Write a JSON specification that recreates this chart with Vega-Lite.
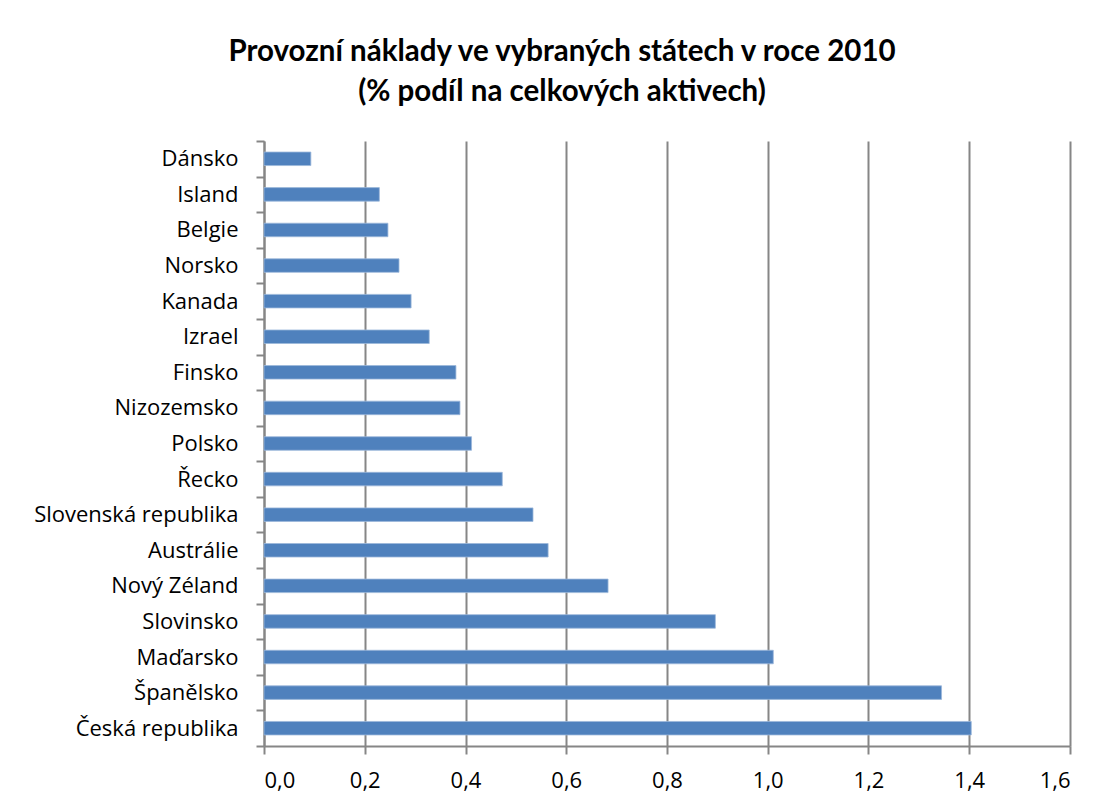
{
  "$schema": "https://vega.github.io/schema/vega-lite/v6.json",
  "autosize": {"type": "none"},
  "width": 806,
  "height": 605,
  "padding": {"left": 264, "top": 141, "right": 35, "bottom": 61},
  "background": "white",
  "title": {
    "text": ["Provozní náklady ve vybraných státech v roce 2010", "(% podíl na celkových aktivech)"],
    "font": "Lato",
    "fontSize": 29.5,
    "fontWeight": "bold",
    "color": "#000000",
    "lineHeight": 40,
    "anchor": "middle",
    "frame": "group",
    "dx": -105,
    "offset": 23
  },
  "data": {
    "values": [
      {"stat": "Dánsko", "hodnota": 0.093},
      {"stat": "Island", "hodnota": 0.229},
      {"stat": "Belgie", "hodnota": 0.246},
      {"stat": "Norsko", "hodnota": 0.268},
      {"stat": "Kanada", "hodnota": 0.292},
      {"stat": "Izrael", "hodnota": 0.328},
      {"stat": "Finsko", "hodnota": 0.381},
      {"stat": "Nizozemsko", "hodnota": 0.389},
      {"stat": "Polsko", "hodnota": 0.412},
      {"stat": "Řecko", "hodnota": 0.473},
      {"stat": "Slovenská republika", "hodnota": 0.534},
      {"stat": "Austrálie", "hodnota": 0.564},
      {"stat": "Nový Zéland", "hodnota": 0.683},
      {"stat": "Slovinsko", "hodnota": 0.896},
      {"stat": "Maďarsko", "hodnota": 1.011},
      {"stat": "Španělsko", "hodnota": 1.345},
      {"stat": "Česká republika", "hodnota": 1.404}
    ]
  },
  "mark": {"type": "bar", "color": "#4F81BD", "stroke": "#9CB8DA", "strokeWidth": 0.8, "height": {"band": 0.38}},
  "encoding": {
    "y": {
      "field": "stat",
      "type": "nominal",
      "sort": null,
      "title": null,
      "scale": {"paddingInner": 0, "paddingOuter": 0},
      "axis": {
        "tickBand": "extent",
        "tickSize": 8,
        "tickColor": "#868686",
        "tickWidth": 2,
        "domainColor": "#868686",
        "domainWidth": 2,
        "labelFont": "Open Sans",
        "labelFontSize": 22,
        "labelColor": "#000000",
        "labelPadding": 18,
        "labelLimit": 300,
        "grid": false
      }
    },
    "x": {
      "field": "hodnota",
      "type": "quantitative",
      "title": null,
      "scale": {"domain": [0, 1.6], "nice": false},
      "axis": {
        "values": [0, 0.2, 0.4, 0.6, 0.8, 1.0, 1.2, 1.4, 1.6],
        "labelExpr": "replace(format(datum.value, '.1f'), '.', ',')",
        "grid": true,
        "gridColor": "#868686",
        "gridWidth": 2,
        "tickSize": 8,
        "tickColor": "#868686",
        "tickWidth": 2,
        "domainColor": "#868686",
        "domainWidth": 2,
        "labelFont": "Open Sans",
        "labelFontSize": 22,
        "labelColor": "#000000",
        "labelPadding": 16
      }
    }
  },
  "config": {"view": {"stroke": null}}
}
